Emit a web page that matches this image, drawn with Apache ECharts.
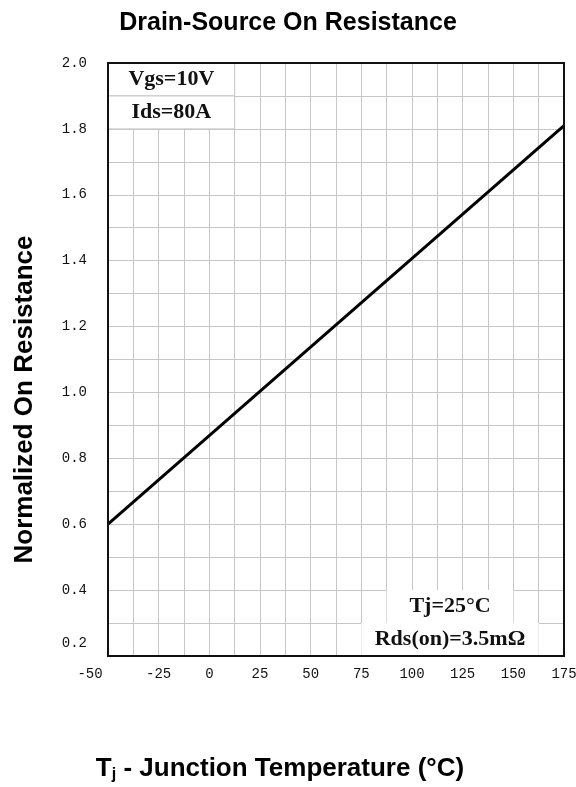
<!DOCTYPE html>
<html>
<head>
<meta charset="utf-8">
<script src="https://cdn.jsdelivr.net/npm/echarts@6/dist/echarts.min.js"></script>
<style>
  html, body { margin: 0; padding: 0; background: #fff; }
  #chart { width: 576px; height: 787px; }
</style>
</head>
<body>
<div id="chart"></div>
<script>
// Junction temperature (°C) and normalized drain-source on-resistance
const temperatures = [-50, 175];
const normalizedRds = [0.6, 1.81];

// Axis tick values
const xTicks = [-50, -25, 0, 25, 50, 75, 100, 125, 150, 175];
const yTicks = [0.2, 0.4, 0.6, 0.8, 1.0, 1.2, 1.4, 1.6, 1.8, 2.0];

// Test-condition notes
const conditionsTop = ['Vgs=10V', 'Ids=80A'];
const conditionsBottom = ['Tj=25°C', 'Rds(on)=3.5mΩ'];

const gridColor = '#c6c6c6';
const tickFont = 'Liberation Mono';
const noteFont = 'Liberation Serif';
const titleFont = 'Liberation Sans';

const lineData = temperatures.map((t, i) => [t, normalizedRds[i]]);

const noteLabel = {
  show: true,
  position: 'inside',
  color: '#111',
  fontFamily: noteFont,
  fontWeight: 'bold',
  fontSize: 22
};

const chart = echarts.init(document.getElementById('chart'), null, { renderer: 'canvas' });

chart.setOption({
  backgroundColor: '#fff',
  animation: false,
  title: {
    text: 'Drain-Source On Resistance',
    left: 'center',
    top: 6,
    textStyle: {
      fontFamily: titleFont,
      fontWeight: 'bold',
      fontSize: 25,
      color: '#000'
    }
  },
  grid: {
    show: true,
    left: 108,
    right: 12,
    top: 63,
    bottom: 131,
    containLabel: false,
    outerBoundsMode: 'none',
    backgroundColor: 'transparent',
    borderColor: '#111',
    borderWidth: 2,
    z: 10
  },
  xAxis: {
    type: 'value',
    min: xTicks[0],
    max: xTicks[xTicks.length - 1],
    interval: 25,
    name: '{b|T}{s|j}{b| - Junction Temperature (°C)}',
    nameLocation: 'middle',
    nameGap: 98,
    nameTextStyle: {
      padding: [0, 112, 0, 0],
      rich: {
        b: { fontFamily: titleFont, fontWeight: 'bold', fontSize: 26, color: '#000' },
        s: { fontFamily: titleFont, fontWeight: 'bold', fontSize: 16, color: '#000', padding: [13, 0, 0, 0] }
      }
    },
    axisLine: { show: false },
    axisTick: { show: false },
    axisLabel: {
      margin: 11,
      fontFamily: tickFont,
      fontSize: 14,
      color: '#111',
      formatter: v => (v === xTicks[0] ? '{first|' + v + '}' : String(v)),
      rich: {
        first: { fontFamily: tickFont, fontSize: 14, color: '#111', padding: [0, 36, 0, 0] }
      }
    },
    splitLine: { show: true, lineStyle: { color: gridColor, width: 1 } },
    minorTick: { show: false, splitNumber: 2 },
    minorSplitLine: { show: true, lineStyle: { color: gridColor, width: 1 } }
  },
  yAxis: {
    type: 'value',
    min: yTicks[0],
    max: yTicks[yTicks.length - 1],
    interval: 0.2,
    name: 'Normalized On Resistance',
    nameLocation: 'middle',
    nameRotate: 90,
    nameGap: 70,
    nameTextStyle: {
      fontFamily: titleFont,
      fontWeight: 'bold',
      fontSize: 26,
      color: '#000',
      padding: [0, 80, 0, 0]
    },
    axisLine: { show: false },
    axisTick: { show: false },
    axisLabel: {
      margin: 21,
      fontFamily: tickFont,
      fontSize: 14,
      color: '#111',
      formatter: v => {
        const s = v.toFixed(1);
        return Math.abs(v - yTicks[0]) < 1e-9 ? '{low|' + s + '}' : s;
      },
      rich: {
        low: { fontFamily: tickFont, fontSize: 14, color: '#111', padding: [0, 0, 26, 0] }
      }
    },
    splitLine: { show: true, lineStyle: { color: gridColor, width: 1 } },
    minorTick: { show: false, splitNumber: 2 },
    minorSplitLine: { show: true, lineStyle: { color: gridColor, width: 1 } }
  },
  series: [{
    type: 'line',
    data: lineData,
    symbol: 'none',
    lineStyle: { color: '#000', width: 3 },
    markArea: {
      silent: true,
      label: noteLabel,
      data: [
        [
          { name: conditionsTop[0], xAxis: -50, yAxis: 1.9,
            itemStyle: { color: '#fff', borderColor: gridColor, borderWidth: 1 } },
          { xAxis: 12.5, yAxis: 2.0 }
        ],
        [
          { name: conditionsTop[1], xAxis: -50, yAxis: 1.8,
            itemStyle: { color: '#fff', borderColor: gridColor, borderWidth: 1 } },
          { xAxis: 12.5, yAxis: 1.9 }
        ],
        [
          { name: conditionsBottom[0], xAxis: 87.5, yAxis: 0.3,
            itemStyle: { color: '#fff', borderWidth: 0 } },
          { xAxis: 150, yAxis: 0.4 }
        ],
        [
          { name: conditionsBottom[1], xAxis: 75, yAxis: 0.2,
            itemStyle: { color: '#fff', borderWidth: 0 } },
          { xAxis: 162.5, yAxis: 0.3 }
        ]
      ]
    }
  }]
});
</script>
</body>
</html>
